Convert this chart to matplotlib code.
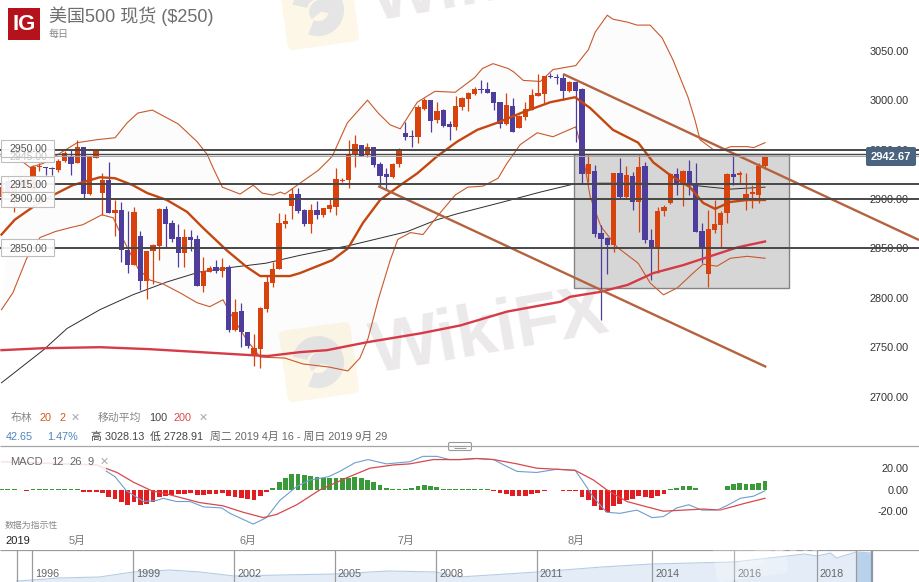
# S&P 500 spot daily chart with bollinger bands, moving averages and MACD
import numpy as np
import matplotlib
matplotlib.use("Agg")
import matplotlib.pyplot as plt
from matplotlib.patches import Rectangle, FancyBboxPatch, Wedge
from matplotlib.transforms import Affine2D

plt.rcParams['font.family'] = ['Liberation Sans', 'Noto Sans CJK SC', 'DejaVu Sans']

# Candles: top of body, bottom of body, high, low, and whether price rose
candles = [
    (2912,2902,2918,2896,1),(2918,2906,2922,2904,0),(2916,2900,2921,2887,1),(2920,2912,2922,2908,0),
    (2921,2912,2922,2908,1),(2932,2909,2934,2907,1),(2933,2932,2936,2928,1),(2932,2931,2932,2924,0),
    (2931,2930,2932,2924,0),(2938,2929,2940,2927,1),(2947,2938,2949,2937,1),(2944,2935,2950,2924,0),
    (2953,2936,2960,2936,1),(2953,2905,2953,2901,0),(2942,2905,2942,2904,1),(2949,2941,2950,2941,1),
    (2919,2906,2926,2884,1),(2919,2886,2937,2886,0),(2889,2886,2899,2863,1),(2889,2848,2897,2836,0),
    (2848,2833,2888,2825,0),(2887,2833,2892,2833,1),(2863,2817,2868,2808,0),(2847,2817,2847,2799,1),
    (2853,2847,2854,2814,1),(2890,2852,2891,2838,1),(2890,2875,2893,2851,0),(2876,2860,2879,2856,0),
    (2862,2845,2875,2831,0),(2862,2845,2870,2831,1),(2862,2859,2869,2847,0),(2860,2812,2864,2812,0),
    (2827,2812,2841,2806,1),(2830,2826,2832,2826,1),(2831,2827,2838,2825,0),(2831,2827,2840,2821,1),
    (2831,2767,2833,2765,0),(2786,2767,2799,2766,1),(2787,2765,2795,2750,0),(2765,2751,2765,2749,0),
    (2749,2741,2763,2731,1),(2790,2748,2791,2729,1),(2816,2789,2823,2786,1),(2829,2815,2836,2811,1),
    (2876,2829,2886,2829,1),(2878,2875,2885,2871,1),(2905,2893,2911,2880,1),(2905,2888,2911,2886,0),
    (2889,2875,2890,2873,0),(2889,2875,2895,2866,1),(2889,2884,2898,2880,0),(2891,2884,2891,2882,1),
    (2894,2890,2900,2887,1),(2920,2892,2931,2884,1),(2919,2918,2921,2917,1),(2946,2919,2960,2911,1),
    (2956,2945,2965,2932,1),(2955,2944,2955,2944,0),(2953,2946,2957,2943,1),(2953,2934,2953,2932,0),
    (2935,2923,2937,2912,0),(2925,2922,2931,2909,0),(2935,2922,2936,2921,1),(2951,2935,2952,2932,1),
    (2967,2963,2978,2960,0),(2964,2963,2970,2953,0),(2993,2963,2995,2957,1),(3000,2991,3002,2990,1),
    (3000,2979,3000,2968,0),(2989,2980,2998,2977,1),(2990,2974,2991,2973,0),(2976,2973,2979,2960,0),
    (2994,2973,3004,2970,1),(3002,2993,3003,2990,1),(3007,3001,3008,2989,1),(3011,3006,3013,3005,1),
    (3011,3010,3020,3007,0),(3011,3007,3018,3007,0),(3008,2997,3008,2990,0),(2998,2976,2998,2972,0),
    (2995,2976,3007,2975,1),(2994,2968,3002,2968,0),(2984,2972,2985,2972,1),(2991,2983,2998,2980,1),
    (3005,2990,3011,2990,1),(3007,3004,3026,3004,1),(3024,3006,3024,2997,1),(3024,3023,3028,3022,0),
    (3023,3022,3026,3016,0),(3022,3009,3026,3000,0),(3018,3009,3019,3008,1),(3018,3009,3018,2958,0),
    (3011,2925,3012,2916,0),(2935,2925,2945,2917,1),(2928,2865,2934,2862,0),(2866,2860,2874,2778,0),
    (2861,2853,2862,2824,0),(2926,2853,2926,2846,1),(2926,2902,2941,2901,0),(2924,2902,2933,2901,1),
    (2923,2897,2927,2889,0),(2932,2897,2945,2867,1),(2933,2858,2937,2855,0),(2858,2850,2870,2818,0),
    (2888,2850,2892,2825,1),(2892,2888,2894,2883,1),(2925,2896,2926,2895,1),(2925,2916,2931,2904,0),
    (2928,2916,2929,2893,1),(2928,2914,2939,2904,0),(2915,2867,2936,2867,0),(2868,2850,2876,2835,0),
    (2870,2824,2889,2811,1),(2875,2869,2899,2866,1),(2886,2874,2888,2851,1),(2925,2886,2926,2876,1),
    (2925,2922,2945,2914,0),(2926,2924,2928,2916,1),(2905,2898,2926,2889,1),(2907,2905,2914,2891,1),
    (2933,2904,2936,2896,1),(2943,2933,2943,2930,1),
]

# Bollinger bands, bar number then price
upper_x = [2.1,2.9,4.5,6.6,9.7,12,15.1,18,19.9,21.6,23.9,28,31,32.6,33.5,35,37.8,39.9,41.3,43,44.2,44.9,47.3,50.2,52.4,54.8,58,59.7,61.6,63.2,65.9,68.7,71.9,75,76.2,77.9,80.3,81.1,82.7,85.4,87.4,91,93,94.1,96,96.9,99.2,100.7,102.8,104.7,106.4,108.8,109.9,110.7,112.8,113.9,115.6,118.2,119.2,121]
upper_y = [2944,2940,2932,2936,2948,2957,2960,2962,2977,2987,2990,2976,2958,2945,2932,2912,2905,2914,2906,2904,2907,2905,2916,2929,2943,2977,3000,2987,2975,2971,2998,3009,3008,3023,3032,3037,3032,3029,3020,3019,3031,3035,3051,3069,3086,3082,3079,3076,3076,3063,3041,3003,2980,2960,2950,2949,2953,2953,2952,2957]
middle_x = [0,2.1,5,8.2,11.3,15.6,18,20.8,23.1,26.2,29.4,31.9,35.7,38.9,41,43.7,45.7,47.3,52.4,54.9,57.3,60,63.2,65.9,69,72.2,75.4,78.5,82.7,87,90.9,93.3,96.9,100.9,103.3,106,109.1,111.2,113.1,115.5,118.2,121]
middle_y = [2864,2879,2892,2904,2914,2922,2921,2914,2906,2899,2887,2871,2848,2831,2822,2822,2822,2825,2838,2850,2876,2899,2914,2926,2943,2958,2970,2977,2988,2998,3003,2992,2970,2957,2937,2924,2912,2896,2890,2897,2899,2899]
lower_x = [0,1.8,4,6.1,8.5,10.9,12.9,15.9,17.7,19.3,21.6,23.5,25.6,28.3,31,33,35.1,36.2,38.9,41,44.9,47.8,51.8,54.9,56.8,58.1,59.7,61.6,62.8,64.8,66.8,69,71.9,73.9,76.3,78.7,80.1,82.2,84.9,87.4,91,92,93.3,95,97.6,100.9,102.8,104.9,107.1,109.6,111.2,113.4,115.5,118.2,121]
lower_y = [2788,2805,2840,2861,2867,2871,2874,2884,2881,2859,2830,2818,2814,2805,2795,2791,2798,2785,2757,2740,2739,2733,2730,2726,2739,2759,2798,2838,2859,2866,2864,2882,2904,2912,2913,2921,2936,2955,2967,2963,2973,2950,2902,2872,2851,2835,2815,2803,2810,2825,2834,2832,2840,2842,2840]

# Moving averages
ma100_x = [0,2.6,6.6,10.4,15.6,20.8,26.2,31.3,36.7,41.9,47.3,55.2,64.3,69,72.2,79.5,85.4,90.6,94.9,100.7,108,112.3,115.5,121]
ma100_y = [2714,2727,2747,2769,2788,2803,2816,2826,2831,2835,2843,2853,2867,2879,2885,2897,2907,2915,2916,2916,2915,2912,2910,2912]
ma200_x = [0,6.6,15.6,23.5,31.5,39.4,42.1,47.3,51.6,57.9,66.4,72.7,80.1,88.6,90.1,94.9,99.2,103.3,108,112.3,116.6,121]
ma200_y = [2747,2749,2750,2748,2745,2742,2741,2745,2747,2755,2764,2772,2786,2796,2801,2806,2813,2825,2833,2842,2851,2857]

# Drawn levels and trendlines
level_prices = [2950, 2915, 2900, 2850]
thin_levels = [2945.5]
trend_a_x = [89.0, 145.4]
trend_a_y = [3026.5, 2858.5]
trend_b_x = [59.7, 121.2]
trend_b_y = [2913, 2730]
box_x = [90.7, 124.8]
box_y = [2810, 2946]
last_price = 2942.67
price_ticks = [3050, 3000, 2950, 2900, 2850, 2800, 2750, 2700]

# MACD panel
macd_x = [0,15.1,18,19.8,22.5,24.6,25.6,27.7,29.9,32,34.9,36.2,39.9,42,44.1,46.8,48.9,51.8,53.6,56,58.1,61,64.7,66.8,69,71,72.7,75.3,78,79.6,81.7,84.8,88,90.9,92,93.8,95.9,98,100.7,103.1,104.9,107,108.9,111,113.4,114.9,117.1,119.2,121]
macd_y = [26,23,12,-1,-11,-10,-8,-11,-11,-16,-17,-22,-32,-26,-10,3,9,12,17,25,28,24,26,31,31,28,28,29,28,23,17,16,19,18,9,-7,-21,-22,-19,-26,-25,-17,-14,-19,-19,-15,-8,-6,-1]
signal_x = [0,15.1,18.3,20.9,23.8,26.2,28.8,31.4,35.1,38.3,41.5,43.6,46.8,50.5,54.7,58.4,62.1,64.7,68.4,70.5,72.6,75.3,78,81.7,84.8,88,90.9,93.8,95.9,99.1,102.3,104.9,108.1,111.2,113.9,117.6,121]
signal_y = [26,23,16,7,-1,-4,-8,-12,-15,-21,-26,-23,-14,0,11,20,23,24,28,28,28,29,28,24,20,19,18,9,0,-11,-16,-20,-19,-18,-19,-13,-8]
macd_hist = [0.5,0.3,0.3,-0.5,-0.8,0.4,0.3,0.3,0.3,0.3,0.3,0.3,0.2,
    -2.5,-2.5,-1.9,-3.1,-6.9,-8.8,-11.9,-14.1,-11.9,-14.7,-13.1,-11.3,-6.9,-5.6,-5,-4.4,-3.8,-3.1,-5,-5,-4.4,-3.8,-3.1,-6.3,-6.9,-8.1,-8.8,-9.4,-6.3,-1.9,
    1.9,6.9,11.3,14.4,15,13.8,13.1,11.9,11.3,10.6,10.6,10.6,11.3,11.9,10.6,9.4,6.9,4.4,1.9,0.9,0.9,0.9,1.3,3.1,4.4,3.1,2.5,0.9,
    0.3,0.3,0.5,0.5,0.5,0.5,0.2,
    -0.9,-3.1,-3.8,-5.6,-5.6,-5.6,-4.4,-3.1,-1.6,-0.6,-0.6,-0.9,-0.9,-0.9,-6.9,-10,-15.6,-18.8,-20.6,-15.6,-13.1,-9.4,-8.8,-5.6,-6.9,-8.1,-6.3,-4.4,
    0.3,1.6,3.8,3.8,1.3,-0.6,-0.6,-0.6,0,3.1,5.3,6.3,5.6,5,6.6,7.8]
macd_ticks = [20, 0, -20]

# Navigator strip
nav_years = [1995.5,1996,1996.8,1998,1999,2000.1,2001,2002,2003.4,2005,2006.6,2008,2008.7,2011,2012.7,2014,2016,2017.7,2018,2018.45,2018.65,2019.3,2019.75]
nav_level = [1,2,4,5,10,12,10,6,7,8,11,10,5,10,15,18,20,28,26,29,24,30,29]
nav_tick_years = [1996,1999,2002,2005,2008,2011,2014,2016,2018]
nav_selection = [2019.3, 2019.75]
month_labels = ['5月', '6月', '7月', '8月']

W, H = 919, 582
ORANGE = '#d8420c'
PURPLE = '#4f3d9e'
BAND = '#c9592c'
TREND = '#b5623e'

fig = plt.figure(figsize=(W / 100, H / 100), dpi=100, facecolor='white')

def px_axes(top, bottom, zorder):
    ax = fig.add_axes([0, 1 - bottom / H, 1, (bottom - top) / H], zorder=zorder)
    ax.patch.set_alpha(0)
    return ax

# Page layers in pixels for the chrome
ax_back = px_axes(0, H, 0)
ax_back.set_xlim(0, W)
ax_back.set_ylim(H, 0)
ax_back.axis('off')
ax_page = px_axes(0, H, 5)
ax_page.set_xlim(0, W)
ax_page.set_ylim(H, 0)
ax_page.axis('off')

def watermark(ax, cx, cy, tile, mark, alpha=1.0):
    rot = Affine2D().rotate_deg_around(cx, cy, -8) + ax.transData
    ax.add_patch(FancyBboxPatch((cx - 33, cy - 33), 66, 66, boxstyle='round,pad=3,rounding_size=6',
                                fc=tile, ec='none', alpha=alpha, transform=rot))
    ax.add_patch(Wedge((cx - 1, cy), 26, 200, 120, width=15, fc=mark, ec='none', alpha=alpha, transform=rot))
    ax.add_patch(Wedge((cx + 2, cy + 2), 12, 150, 20, fc=mark, ec='none', alpha=alpha, transform=rot))

# Watermarks sit under the chart
for dy in [0, -352]:
    watermark(ax_back, 319, 362 + dy, '#fdf7e7', '#e6e5e5')
    ax_back.text(490, 333 + dy, 'WikiFX', fontsize=52, fontweight='bold', color='#ebe9e9',
                 rotation=10, ha='center', va='center', clip_on=False)

# Main price panel
ax = px_axes(0, 405, 1)
ax.set_xlim((0 - 1.5) / 6.31, (W - 1.5) / 6.31)
ax.set_ylim(2691.5, 3101.4)
for s in ax.spines.values():
    s.set_visible(False)
ax.set_xticks([])
ax.yaxis.tick_right()
ax.set_yticks(price_ticks, [f'{p:.2f}' for p in price_ticks])
ax.tick_params(axis='y', length=0, pad=-7.5, labelsize=7.8, labelcolor='#333333')
for lab in ax.get_yticklabels():
    lab.set_ha('right')

ax.fill(upper_x + lower_x[::-1], upper_y + lower_y[::-1], color='#808080', alpha=0.022, lw=0, zorder=1)
ax.add_patch(Rectangle((box_x[0], box_y[0]), box_x[1] - box_x[0], box_y[1] - box_y[0],
                       fc='#d6d6d6', ec='#858585', lw=1.0, zorder=1.5))

ax.plot(ma100_x, ma100_y, color='#2e2e2e', lw=0.7, zorder=2)
ax.plot(upper_x, upper_y, color=BAND, lw=0.8, zorder=2)
ax.plot(lower_x, lower_y, color=BAND, lw=0.8, zorder=2)

# Candles
for i, (top, bot, hi, lo, up) in enumerate(candles):
    c = ORANGE if up else PURPLE
    ax.vlines(i, lo, hi, color=c, lw=0.9, zorder=3)
    ax.bar(i, max(top - bot, 1), bottom=bot, width=0.84, color=c, lw=0, zorder=3)

ax.plot(middle_x, middle_y, color='#c4470f', lw=1.7, zorder=4)
ax.plot(ma200_x, ma200_y, color='#d63a46', lw=1.7, zorder=4)
ax.plot(trend_a_x, trend_a_y, color=TREND, lw=1.7, zorder=4, solid_capstyle='butt')
ax.plot(trend_b_x, trend_b_y, color=TREND, lw=1.7, zorder=4, solid_capstyle='butt')
ax.hlines(level_prices, *ax.get_xlim(), color='#474747', lw=1.4, zorder=4)
ax.hlines(thin_levels, *ax.get_xlim(), color='#474747', lw=1.0, zorder=4)
ax.hlines([2943.5], *ax.get_xlim(), color='#a8a8a8', lw=0.7, zorder=4)

# MACD panel
ax_m = px_axes(447, 530, 1)
ax_m.set_xlim(ax.get_xlim())
ax_m.set_ylim(-37.5, 39.7)
for s in ax_m.spines.values():
    s.set_visible(False)
ax_m.set_xticks([])
ax_m.yaxis.tick_right()
ax_m.set_yticks(macd_ticks, [f'{v:.2f}' for v in macd_ticks])
ax_m.tick_params(axis='y', length=0, pad=-7.5, labelsize=7.8, labelcolor='#333333')
for lab in ax_m.get_yticklabels():
    lab.set_ha('right')
hist = np.array(macd_hist)
ax_m.bar(np.arange(len(hist)), hist, width=0.76, lw=0,
         color=['#3a9a3a' if v > 0 else '#e11d22' for v in hist], zorder=2)
ax_m.plot(macd_x, macd_y, color='#6d9ed0', lw=0.8, zorder=3)
ax_m.plot(signal_x, signal_y, color='#d8484c', lw=0.9, zorder=3)

# Navigator
ax_n = px_axes(550, H, 1)
ax_n.set_xlim(0, W)
ax_n.set_ylim(0, 32)
ax_n.axis('off')
pos_years = [1995.5] + nav_tick_years + nav_selection
pos_px = [16.7, 32, 133, 234, 335, 436, 537, 652, 734, 817, 856, 872]
nav_x = np.interp(nav_years, pos_years, pos_px)
ax_n.fill_between(nav_x, 0, nav_level, color='#e4edf7', lw=0, zorder=1)
ax_n.plot(nav_x, nav_level, color='#b4cde6', lw=0.8, zorder=2)
sel = np.interp(nav_selection, pos_years, pos_px)
ax_n.fill_between(nav_x[-2:], 0, nav_level[-2:], color='#b9d2ec', lw=0, zorder=2)
ax_n.vlines(np.interp([1995.5] + nav_tick_years + [nav_selection[0]], pos_years, pos_px), 0, 32,
            color='#9a9a9a', lw=0.9, zorder=3)
ax_n.vlines(sel[1], 0, 32, color='#8d96a8', lw=1.6, zorder=3)
ax_n.hlines(31.7, 0, W, color='#9a9a9a', lw=0.9, zorder=3)
for yr in nav_tick_years:
    ax_n.text(np.interp(yr, pos_years, pos_px) + 3, 8, str(yr), fontsize=7.8, color='#666666',
              va='center', ha='left', zorder=4)

# Chrome on top of everything
def label(x, y, s, size=7.8, color='#666666', **kw):
    ax_page.text(x, y, s, fontsize=size, color=color, va='center', **kw)

# Faint white watermark over the navigator
watermark(ax_page, 748, 542, 'white', 'white', alpha=0.25)
ax_page.text(825, 542, 'WikiFX', fontsize=24, fontweight='bold', color='white', alpha=0.4,
             rotation=6, ha='center', va='center')

ax_page.add_patch(Rectangle((8, 8), 32, 32, fc='#b5131b', ec='none'))
label(24, 24.5, 'IG', size=16, color='white', fontweight='bold', ha='center')
label(49, 16, '美国500 现货 ($250)', size=13, color='#6e6e6e')
label(49, 34, '每日', size=7.2, color='#888888')

# Level tags on the left edge
boxes = [(150, 162, '2945.00', 156, '#c4c4c4'), (140, 157, '2950.00', 149, '#555555'),
         (176, 192, '2915.00', 184, '#555555'), (192, 207, '2900.00', 199, '#555555'),
         (239, 256, '2850.00', 248, '#555555')]
for top, bottom, txt, ty, tc in boxes:
    ax_page.add_patch(Rectangle((0.5, top), 53, bottom - top, fc='white', ec='#b9b9b9', lw=0.8, alpha=0.92))
    label(9, ty + 0.5, txt, size=7.6, color=tc)

# Last price tag
ax_page.add_patch(FancyBboxPatch((867, 148), 48, 17, boxstyle='round,pad=1,rounding_size=2',
                                 fc='#4a6480', ec='none'))
label(891, 156.5, f'{last_price:.2f}', size=8, color='white', fontweight='bold', ha='center')

# Legend rows
label(11, 418, '布林', color='#888888')
label(40, 418, '20', color='#d2561e')
label(59, 418, '2', color='#d2561e')
label(71, 418, '✕', color='#a9a9a9')
label(98, 418, '移动平均', color='#888888')
label(149, 418, '100', color='#444444')
label(174, 418, '200', color='#d8484c')
label(199, 418, '✕', color='#a9a9a9')
label(6, 437, '42.65', color='#4a86bd')
label(47, 437, '1.47%', color='#4a86bd')
label(91, 437, '高 3028.13', color='#444444')
label(150, 437, '低 2728.91', color='#444444')
label(210, 437, '周二 2019 4月 16 - 周日 2019 9月 29', color='#666666')

# Panel separator with its handle
ax_page.hlines(446, 0, W, color='#a5a5a5', lw=0.9)
ax_page.add_patch(FancyBboxPatch((449, 443), 22, 7, boxstyle='round,pad=0.5,rounding_size=1.5',
                                 fc='white', ec='#999999', lw=0.8))
ax_page.hlines([445.5, 447.5], 454, 466, color='#999999', lw=0.7)

# MACD header fades the lines behind it
ax_page.add_patch(Rectangle((0, 452), 106, 19, fc='white', ec='none', alpha=0.85))
label(10, 462, 'MACD', size=8)
label(51, 462, '12', size=8)
label(69, 462, '26', size=8)
label(88, 462, '9', size=8)
label(100, 462, '✕', color='#a9a9a9')
label(5, 525, '数据为指示性', size=6.4, color='#888888')

# Month row
label(5, 541, '2019', size=8, color='#222222')
for m, mx in zip(month_labels, [69, 240, 398, 567]):
    label(mx, 541, m, color='#777777')

fig.savefig('out.png', dpi=100)
